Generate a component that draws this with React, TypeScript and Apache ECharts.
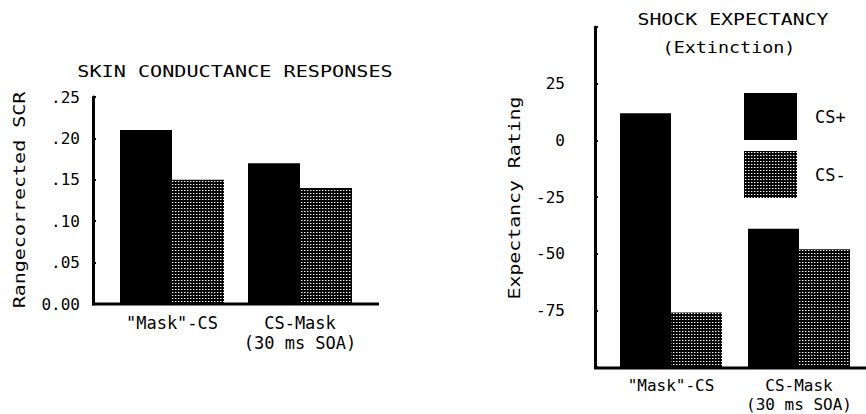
import React, { useEffect, useRef } from 'react';
import * as echarts from 'echarts';

const CATEGORIES = ['"Mask"-CS', 'CS-Mask\n(30 ms SOA)'];
const SERIES_NAMES = ['CS+', 'CS-'];

// Left panel: skin conductance responses
const SCR_CS_PLUS = [0.21, 0.17];
const SCR_CS_MINUS = [0.15, 0.14];
const SCR_MIN = 0;
const SCR_MAX = 0.25;
const SCR_STEP = 0.05;

// Right panel: shock expectancy (extinction)
const EXP_CS_PLUS = [12, -39];
const EXP_CS_MINUS = [-76, -48];
const EXP_MIN = -100;
const EXP_MAX = 50;
const EXP_STEP = 25;

const FONT = 'DejaVu Sans Mono';

export default function App() {
  const ref = useRef<HTMLDivElement>(null);
  useEffect(() => {
    const chart = echarts.init(ref.current!, null, { renderer: 'svg' });

    const cv = document.createElement('canvas');
    cv.width = 3;
    cv.height = 3;
    const ctx = cv.getContext('2d')!;
    ctx.fillStyle = '#000';
    ctx.fillRect(0, 0, 3, 3);
    ctx.fillStyle = '#fff';
    ctx.fillRect(1, 1, 1, 1);
    ctx.fillStyle = '#666';
    ctx.fillRect(2, 1, 1, 1);
    const dots: any = { image: cv.toDataURL(), repeat: 'repeat', imageWidth: 3, imageHeight: 3 };
    const fills = ['#000', dots];

    const BAR_W_RIGHT = 51;
    const makeRender = (side: number, fill: any) => (params: any, api: any) => {
      const idx = api.value(0);
      const val = api.value(1);
      const top = api.coord([idx, val]);
      const base = api.coord([idx, EXP_MIN]);
      const x = side === 0 ? top[0] - BAR_W_RIGHT : top[0];
      return {
        type: 'rect',
        shape: { x, y: top[1], width: BAR_W_RIGHT, height: base[1] - top[1] },
        style: { fill },
      };
    };

    const txt = (text: string, x: number, y: number, scaleX: number, size: number, rotation = 0) => ({
      type: 'text',
      x,
      y,
      scaleX,
      rotation,
      style: {
        text,
        fontFamily: FONT,
        fontSize: size,
        fill: '#000',
        textAlign: 'center',
        align: 'center',
        textVerticalAlign: 'middle',
        verticalAlign: 'middle',
      },
    });

    const catLabel = (size: number, lh: number) => ({
      interval: 0,
      fontFamily: FONT,
      fontSize: size,
      color: '#000',
      lineHeight: lh,
    });

    chart.setOption({
      animation: false,
      backgroundColor: '#fff',
      grid: [
        { left: 108, top: 97, width: 256, height: 207 },
        { left: 607, top: 27, width: 256, height: 341 },
      ],
      xAxis: [
        {
          gridIndex: 0,
          type: 'category',
          data: CATEGORIES,
          axisLine: { show: false },
          axisTick: { show: false },
          axisLabel: { margin: 9, ...catLabel(17, 20) },
        },
        {
          gridIndex: 1,
          type: 'category',
          data: CATEGORIES,
          axisLine: { show: false },
          axisTick: { show: false },
          axisLabel: { margin: 9, ...catLabel(16, 19) },
        },
      ],
      yAxis: [
        {
          gridIndex: 0,
          type: 'value',
          min: SCR_MIN,
          max: SCR_MAX,
          interval: SCR_STEP,
          offset: 15,
          splitLine: { show: false },
          axisLine: { show: true, lineStyle: { color: '#000', width: 3 } },
          axisTick: { show: true, inside: true, length: 3, lineStyle: { color: '#000', width: 2 } },
          axisLabel: {
            margin: 13,
            fontFamily: FONT,
            fontSize: 16,
            color: '#000',
            formatter: (v: number) => (v === 0 ? '0.00' : v.toFixed(2).replace(/^0/, '')),
          },
        },
        {
          gridIndex: 1,
          type: 'value',
          min: EXP_MIN,
          max: EXP_MAX,
          interval: EXP_STEP,
          offset: 12,
          splitLine: { show: false },
          axisLine: { show: true, lineStyle: { color: '#000', width: 3 } },
          axisTick: { show: true, inside: true, length: 3, lineStyle: { color: '#000', width: 2 } },
          axisLabel: {
            margin: 30,
            fontFamily: FONT,
            fontSize: 16,
            color: '#000',
            formatter: (v: number) => (v === EXP_MIN || v === EXP_MAX ? '' : String(v)),
          },
        },
      ],
      legend: {
        data: SERIES_NAMES,
        orient: 'vertical',
        left: 744,
        top: 93,
        padding: 0,
        itemWidth: 53,
        itemHeight: 47,
        itemGap: 11,
        icon: 'rect',
        selectedMode: false,
        textStyle: { fontFamily: FONT, fontSize: 17, color: '#000', padding: [0, 0, 0, 13] },
      },
      series: [
        {
          name: SERIES_NAMES[0],
          type: 'bar',
          xAxisIndex: 0,
          yAxisIndex: 0,
          barWidth: 52,
          barGap: '0%',
          itemStyle: { color: fills[0] },
          data: SCR_CS_PLUS,
        },
        {
          name: SERIES_NAMES[1],
          type: 'bar',
          xAxisIndex: 0,
          yAxisIndex: 0,
          barWidth: 52,
          barGap: '0%',
          itemStyle: { color: fills[1] },
          data: SCR_CS_MINUS,
        },
        {
          name: SERIES_NAMES[0],
          type: 'custom',
          xAxisIndex: 1,
          yAxisIndex: 1,
          encode: { x: 0, y: 1 },
          itemStyle: { color: fills[0] },
          renderItem: makeRender(0, fills[0]),
          data: EXP_CS_PLUS.map((v, i) => [i, v]),
        },
        {
          name: SERIES_NAMES[1],
          type: 'custom',
          xAxisIndex: 1,
          yAxisIndex: 1,
          encode: { x: 0, y: 1 },
          itemStyle: { color: fills[1] },
          renderItem: makeRender(1, fills[1]),
          data: EXP_CS_MINUS.map((v, i) => [i, v]),
        },
      ],
      graphic: [
        txt('SKIN CONDUCTANCE RESPONSES', 235, 71, 1.26, 16),
        txt('SHOCK EXPECTANCY', 733, 19, 1.24, 16),
        txt('(Extinction)', 729, 47, 1.15, 16),
        txt('Rangecorrected SCR', 19, 200, 1.25, 16, Math.PI / 2),
        txt('Expectancy Rating', 514, 198, 1.24, 16, Math.PI / 2),
        {
          type: 'line',
          shape: { x1: 92, y1: 304, x2: 379, y2: 304 },
          style: { stroke: '#000', lineWidth: 3 },
        },
        {
          type: 'line',
          shape: { x1: 594, y1: 368, x2: 866, y2: 368 },
          style: { stroke: '#000', lineWidth: 3 },
        },
      ],
    });

    return () => chart.dispose();
  }, []);
  return (
    <div
      ref={ref}
      style={{ position: 'absolute', left: 0, top: 0, width: 866, height: 414, background: '#fff' }}
    />
  );
}
